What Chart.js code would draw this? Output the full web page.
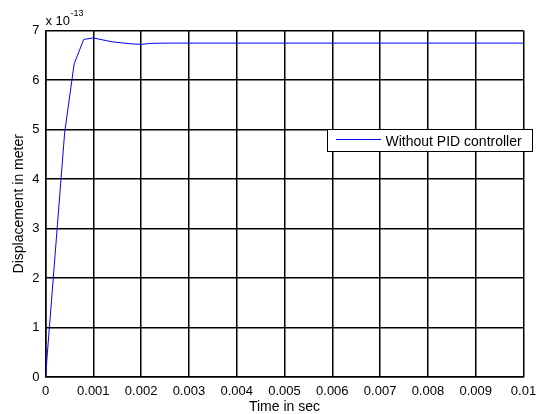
<!DOCTYPE html>
<html>
<head>
<meta charset="utf-8">
<script src="https://cdn.jsdelivr.net/npm/chart.js@4/dist/chart.umd.min.js"></script>
<style>
  html, body { margin: 0; padding: 0; background: #fff; }
  #chart { display: block; }
</style>
</head>
<body>
<canvas id="chart" width="537" height="414"></canvas>
<script>
// === Данные ===
const timeSec = [0, 0.0002, 0.0004, 0.0006, 0.0008, 0.001, 0.0012, 0.0014, 0.0016, 0.0018, 0.002, 0.0022, 0.0025, 0.003, 0.004, 0.005, 0.006, 0.007, 0.008, 0.009, 0.01];
const displacement = [0, 2.46, 4.93, 6.33, 6.82, 6.85, 6.81, 6.77, 6.75, 6.73, 6.72, 6.74, 6.745, 6.745, 6.745, 6.745, 6.745, 6.745, 6.745, 6.745, 6.745];
const seriesName = 'Without PID controller';
const xTitle = 'Time in sec';
const yTitle = 'Displacement in meter';

const font = 'Liberation Sans, Arial, sans-serif';

// === Подписи осей, множитель и легенда ===
const extras = {
  id: 'extras',
  afterDraw(chart) {
    const { ctx, chartArea: a } = chart;
    ctx.save();
    ctx.fillStyle = '#000';
    // подпись оси X
    ctx.font = `14px ${font}`;
    ctx.textAlign = 'center';
    ctx.textBaseline = 'alphabetic';
    ctx.fillText(xTitle, (a.left + a.right) / 2, 410.5);
    // подпись оси Y
    ctx.save();
    ctx.translate(22.5, (a.top + a.bottom) / 2);
    ctx.rotate(-Math.PI / 2);
    ctx.fillText(yTitle, 0, 0);
    ctx.restore();
    // множитель x 10^-13
    ctx.textAlign = 'left';
    ctx.font = `13px ${font}`;
    ctx.fillText('x 10', 45.5, 25);
    const w = ctx.measureText('x 10').width;
    ctx.font = `9px ${font}`;
    ctx.fillText('-13', 45.5 + w + 0.5, 16);
    // легенда
    ctx.fillStyle = '#fff';
    ctx.fillRect(327.5, 129.5, 205, 22);
    ctx.strokeStyle = '#000';
    ctx.lineWidth = 1;
    ctx.strokeRect(327.5, 129.5, 205, 22);
    ctx.strokeStyle = '#0000ff';
    ctx.beginPath();
    ctx.moveTo(336, 139.5);
    ctx.lineTo(381, 139.5);
    ctx.stroke();
    ctx.fillStyle = '#000';
    ctx.font = `14px ${font}`;
    ctx.fillText(seriesName, 385.5, 145.5);
    ctx.restore();
  }
};

new Chart(document.getElementById('chart'), {
  type: 'line',
  data: {
    datasets: [{
      label: seriesName,
      data: timeSec.map((t, i) => ({ x: t, y: displacement[i] })),
      borderColor: '#0000ff',
      borderWidth: 1,
      pointRadius: 0,
      tension: 0,
      fill: false
    }]
  },
  options: {
    responsive: false,
    animation: false,
    layout: { padding: { top: 30.5, right: 13.5, left: 0, bottom: 0 } },
    plugins: { legend: { display: false }, tooltip: { enabled: false } },
    scales: {
      x: {
        type: 'linear',
        min: 0,
        max: 0.01,
        afterFit: s => {
          s.height = 37;
          s.paddingLeft = 0;
          s.paddingRight = 0;
        },
        ticks: {
          stepSize: 0.001,
          color: '#000',
          font: { family: font, size: 13 },
          padding: 7,
          maxRotation: 0,
          autoSkip: false,
          callback: v => String(Number(v.toFixed(3)))
        },
        grid: { color: '#000', lineWidth: 1.5, drawTicks: false },
        border: { color: '#000', width: 1.5 }
      },
      y: {
        min: 0,
        max: 7,
        afterFit: s => {
          s.width = 45.5;
          s.paddingTop = 0;
          s.paddingBottom = 0;
        },
        ticks: {
          stepSize: 1,
          color: '#000',
          font: { family: font, size: 13 },
          padding: 6
        },
        grid: { color: '#000', lineWidth: 1.5, drawTicks: false },
        border: { color: '#000', width: 1.5 }
      }
    }
  },
  plugins: [extras]
});
</script>
</body>
</html>
